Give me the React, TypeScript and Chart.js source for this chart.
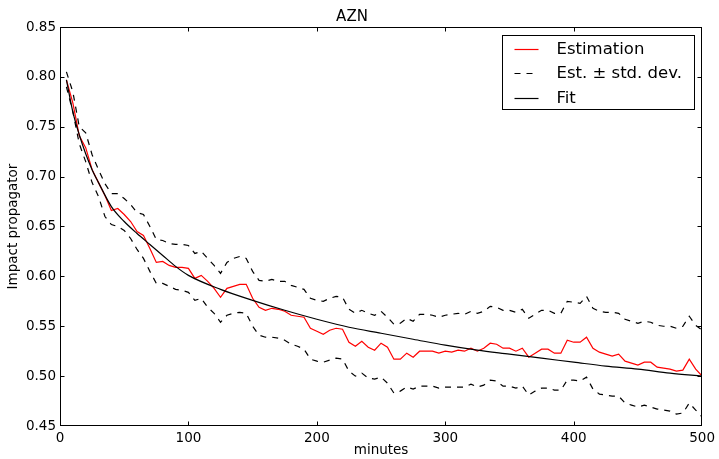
import React, { useEffect, useRef } from "react";
import { Chart, registerables } from "chart.js";

Chart.register(...registerables);

const chartTitle = "AZN";
const xAxisLabel = "minutes";
const yAxisLabel = "Impact propagator";
const xTickValues = [0, 100, 200, 300, 400, 500];
const yTickValues = [0.45, 0.5, 0.55, 0.6, 0.65, 0.7, 0.75, 0.8, 0.85];

const minutes = [
  5, 10, 15, 20, 25, 30, 35, 40, 45, 50,
  55, 60, 65, 70, 75, 80, 85, 90, 95, 100,
  105, 110, 115, 120, 125, 130, 135, 140, 145, 150,
  155, 160, 165, 170, 175, 180, 185, 190, 195, 200,
  205, 210, 215, 220, 225, 230, 235, 240, 245, 250,
  255, 260, 265, 270, 275, 280, 285, 290, 295, 300,
  305, 310, 315, 320, 325, 330, 335, 340, 345, 350,
  355, 360, 365, 370, 375, 380, 385, 390, 395, 400,
  405, 410, 415, 420, 425, 430, 435, 440, 445, 450,
  455, 460, 465, 470, 475, 480, 485, 490, 495, 500,
];

const estimation = [
  0.797, 0.774, 0.741, 0.729, 0.707, 0.694, 0.681, 0.666, 0.668, 0.662,
  0.655, 0.645, 0.641, 0.628, 0.614, 0.615, 0.611, 0.609, 0.609, 0.608,
  0.598, 0.601, 0.595, 0.588, 0.579, 0.588, 0.59, 0.592, 0.592, 0.578,
  0.569, 0.566, 0.568, 0.567, 0.565, 0.561, 0.56, 0.559, 0.548, 0.545,
  0.542, 0.546, 0.548, 0.547, 0.534, 0.53, 0.535, 0.529, 0.526, 0.533,
  0.529, 0.517, 0.517, 0.523, 0.519, 0.525, 0.525, 0.525, 0.523, 0.525,
  0.524, 0.526, 0.525, 0.528, 0.525, 0.528, 0.533, 0.532, 0.528, 0.528,
  0.525, 0.528, 0.519, 0.523, 0.527, 0.527, 0.523, 0.523, 0.536, 0.534,
  0.534, 0.539, 0.528, 0.524, 0.522, 0.52, 0.522, 0.515, 0.513, 0.511,
  0.514, 0.514, 0.509, 0.508, 0.507, 0.505, 0.506, 0.517, 0.507, 0.5,
];

const upperBand = [
  0.805, 0.785, 0.75, 0.744, 0.722, 0.707, 0.693, 0.683, 0.683, 0.678,
  0.672, 0.664, 0.662, 0.65, 0.637, 0.636, 0.633, 0.632, 0.632, 0.631,
  0.623, 0.625, 0.618, 0.611, 0.603, 0.614, 0.618, 0.62, 0.618, 0.605,
  0.596, 0.595, 0.597, 0.595, 0.595, 0.591, 0.589, 0.587, 0.578, 0.576,
  0.575, 0.578, 0.58, 0.579, 0.567, 0.563, 0.566, 0.563, 0.561, 0.565,
  0.559, 0.552, 0.553, 0.558, 0.555, 0.562, 0.562, 0.561, 0.559, 0.561,
  0.562, 0.563, 0.562, 0.565, 0.563, 0.565, 0.57, 0.569, 0.566, 0.566,
  0.564, 0.567, 0.558, 0.562, 0.566, 0.566, 0.563, 0.563, 0.575, 0.574,
  0.573, 0.58, 0.568, 0.565, 0.564, 0.564, 0.563, 0.557, 0.555, 0.553,
  0.555, 0.554, 0.551, 0.55, 0.55, 0.548, 0.55, 0.56, 0.551, 0.546,
];

const lowerBand = [
  0.79, 0.765, 0.733, 0.715, 0.694, 0.68, 0.66, 0.652, 0.65, 0.646,
  0.638, 0.627, 0.618, 0.605, 0.593, 0.593, 0.59, 0.587, 0.586, 0.584,
  0.576, 0.578, 0.569, 0.563, 0.554, 0.561, 0.563, 0.564, 0.563, 0.55,
  0.541, 0.539, 0.539, 0.538, 0.536, 0.532, 0.53, 0.527, 0.517, 0.515,
  0.514, 0.516, 0.518, 0.517, 0.505, 0.5, 0.503, 0.498, 0.497, 0.499,
  0.493, 0.483, 0.485, 0.489, 0.487, 0.49, 0.49, 0.49, 0.488, 0.489,
  0.489, 0.489, 0.489, 0.492, 0.489, 0.491, 0.496, 0.495, 0.49, 0.49,
  0.488, 0.49, 0.481, 0.485, 0.488, 0.488, 0.486, 0.486, 0.496, 0.496,
  0.495, 0.499, 0.487, 0.482, 0.481, 0.48, 0.48, 0.473, 0.471, 0.469,
  0.471, 0.469, 0.467, 0.466, 0.465, 0.462, 0.463, 0.473, 0.466, 0.459,
];

const fitMinutes = [
  5, 10, 15, 20, 25, 30, 40, 50, 60, 70, 80, 90, 100, 125, 150, 175, 200,
  225, 250, 275, 300, 325, 350, 375, 400, 425, 450, 475, 500,
];
const fitValues = [
  0.797, 0.765, 0.742, 0.723, 0.707, 0.694, 0.67, 0.655, 0.643, 0.632,
  0.621, 0.61, 0.601, 0.587, 0.576, 0.566, 0.557, 0.549, 0.543, 0.537,
  0.531, 0.526, 0.522, 0.518, 0.514, 0.51, 0.507, 0.503, 0.5,
];

const legendLabels = ["Estimation", "Est. \u00b1 std. dev.", "Fit"];

const FONT = '"DejaVu Sans", sans-serif';

const pairs = (xs: number[], ys: number[]) => xs.map((x, i) => ({ x, y: ys[i] }));

const clamp = (v: number, lo: number, hi: number) => Math.min(hi, Math.max(lo, v));

const framePlugin = {
  id: "mplFrame",
  afterDatasetsDraw(chart: any) {
    const { ctx, chartArea, scales } = chart;
    const { left, right, top, bottom } = chartArea;
    const L = Math.round(left) + 0.5;
    const R = Math.round(right) - 0.5;
    const T = Math.round(top) + 0.5;
    const B = Math.round(bottom) - 0.5;
    ctx.save();
    ctx.strokeStyle = "#000";
    ctx.lineWidth = 1;
    ctx.setLineDash([]);
    ctx.strokeRect(L, T, R - L, B - T);
    const tl = 4;
    ctx.beginPath();
    for (const v of xTickValues) {
      const px = clamp(Math.round(scales.x.getPixelForValue(v)) + 0.5, L, R);
      ctx.moveTo(px, B);
      ctx.lineTo(px, B - tl);
      ctx.moveTo(px, T);
      ctx.lineTo(px, T + tl);
    }
    for (const v of yTickValues) {
      const py = clamp(Math.round(scales.y.getPixelForValue(v)) + 0.5, T, B);
      ctx.moveTo(L, py);
      ctx.lineTo(L + tl, py);
      ctx.moveTo(R, py);
      ctx.lineTo(R - tl, py);
    }
    ctx.stroke();

    // legend box
    const w = 192;
    const h = 74;
    const bx = Math.round(right - 8 - w) + 0.5;
    const by = Math.round(top + 8) + 0.5;
    ctx.fillStyle = "#fff";
    ctx.fillRect(bx, by, w, h);
    ctx.strokeStyle = "#000";
    ctx.strokeRect(bx, by, w, h);
    const dsForLegend = [0, 1, 3];
    legendLabels.forEach((label, i) => {
      const ds = chart.data.datasets[dsForLegend[i]];
      const cy = Math.round(by + 13 + i * 24.5) + 0.5;
      ctx.strokeStyle = ds.borderColor;
      ctx.lineWidth = 1.2;
      ctx.setLineDash(ds.borderDash || []);
      ctx.beginPath();
      ctx.moveTo(bx + 12, cy);
      ctx.lineTo(bx + 36, cy);
      ctx.stroke();
      ctx.setLineDash([]);
      ctx.fillStyle = "#000";
      ctx.font = `16.5px ${FONT}`;
      ctx.textBaseline = "middle";
      ctx.textAlign = "left";
      ctx.fillText(label, bx + 54, cy);
    });
    ctx.restore();
  },
};

export default function App() {
  const ref = useRef<HTMLCanvasElement>(null);
  useEffect(() => {
    document.body.style.margin = "0";
    const canvas = ref.current;
    if (!canvas) return;
    const chart = new Chart(canvas, {
      type: "line",
      data: {
        datasets: [
          {
            label: legendLabels[0],
            data: pairs(minutes, estimation),
            borderColor: "#ff0000",
            borderWidth: 1.2,
            pointRadius: 0,
            fill: false,
            order: 2,
          },
          {
            label: legendLabels[1],
            data: pairs(minutes, upperBand),
            borderColor: "#000000",
            borderWidth: 1.2,
            borderDash: [6, 6],
            pointRadius: 0,
            fill: false,
            order: 1,
          },
          {
            label: "lower",
            data: pairs(minutes, lowerBand),
            borderColor: "#000000",
            borderWidth: 1.2,
            borderDash: [6, 6],
            pointRadius: 0,
            fill: false,
            order: 1,
          },
          {
            label: legendLabels[2],
            data: pairs(fitMinutes, fitValues),
            borderColor: "#000000",
            borderWidth: 1.2,
            pointRadius: 0,
            fill: false,
            cubicInterpolationMode: "monotone",
            order: 0,
          },
        ],
      },
      options: {
        animation: false,
        responsive: false,
        events: [],
        layout: { padding: { left: 0, right: 15, top: 0, bottom: 0 } },
        plugins: {
          legend: { display: false },
          tooltip: { enabled: false },
          title: {
            display: true,
            text: chartTitle,
            color: "#000",
            font: { family: FONT, size: 15, weight: "normal" },
            padding: { top: 8, bottom: 1 },
          },
        },
        scales: {
          x: {
            type: "linear",
            min: 0,
            max: 500,
            grid: { display: false, drawTicks: false, tickLength: 0 },
            border: { display: false },
            afterBuildTicks: (s: any) => {
              s.ticks = xTickValues.map((v) => ({ value: v }));
            },
            afterFit: (s: any) => {
              s.height = 33;
            },
            ticks: {
              color: "#000",
              padding: 4,
              maxRotation: 0,
              font: { family: FONT, size: 13.5 },
              callback: (v: any) => String(v),
            },
            title: {
              display: true,
              text: xAxisLabel,
              color: "#000",
              font: { family: FONT, size: 13.5 },
              padding: { top: 0, bottom: 0 },
            },
          },
          y: {
            type: "linear",
            min: 0.45,
            max: 0.85,
            grid: { display: false, drawTicks: false, tickLength: 0 },
            border: { display: false },
            afterBuildTicks: (s: any) => {
              s.ticks = yTickValues.map((v) => ({ value: v }));
            },
            afterFit: (s: any) => {
              s.width = 60;
            },
            ticks: {
              color: "#000",
              padding: 4,
              font: { family: FONT, size: 13.5 },
              callback: (v: any) => Number(v).toFixed(2),
            },
            title: {
              display: true,
              text: yAxisLabel,
              color: "#000",
              font: { family: FONT, size: 13.5 },
              padding: { top: 5, bottom: 0 },
            },
          },
        },
      },
      plugins: [framePlugin],
    } as any);
    return () => chart.destroy();
  }, []);
  return (
    <div style={{ position: "absolute", left: 0, top: 0, width: 719, height: 459 }}>
      <canvas ref={ref} width={719} height={459} style={{ display: "block" }} />
    </div>
  );
}
